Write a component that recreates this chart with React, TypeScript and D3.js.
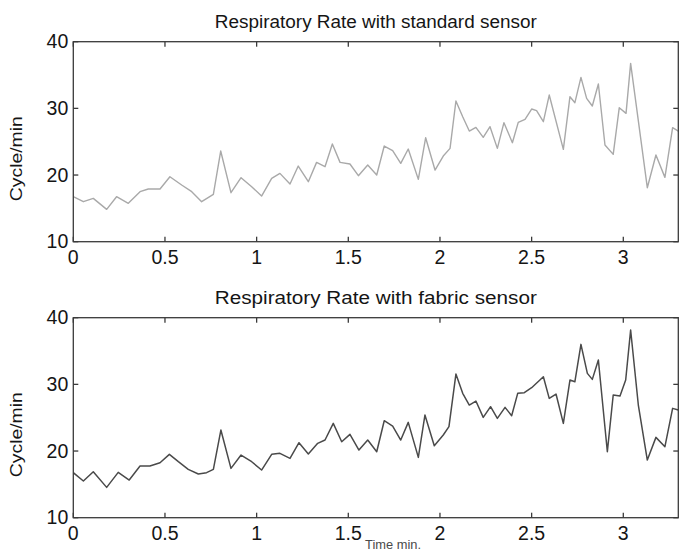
import React from "react";
import * as d3 from "d3";

// ---- data (time in minutes, respiratory rate in cycles/min) ----
const STD_TIME = [
  0, 0.055, 0.109, 0.182, 0.236, 0.3, 0.364, 0.409, 0.473, 0.527, 0.591, 0.646, 0.7, 0.764, 0.804,
  0.86, 0.915, 0.973, 1.027, 1.082, 1.127, 1.182, 1.227, 1.282, 1.327, 1.373, 1.413, 1.455, 1.509,
  1.555, 1.606, 1.655, 1.696, 1.742, 1.786, 1.827, 1.882, 1.922, 1.973, 2.018, 2.055, 2.087, 2.124,
  2.16, 2.196, 2.236, 2.273, 2.313, 2.349, 2.395, 2.427, 2.464, 2.5, 2.527, 2.564, 2.596, 2.673,
  2.709, 2.736, 2.769, 2.8, 2.831, 2.864, 2.9, 2.945, 2.978, 3.015, 3.04, 3.131, 3.178, 3.227,
  3.269, 3.3,
];
const STD_RATE = [
  16.75, 16.0, 16.5, 14.85, 16.75, 15.75, 17.5, 17.9, 17.9, 19.75, 18.5, 17.5, 16.0, 17.1, 23.6,
  17.35, 19.6, 18.25, 16.85, 19.5, 20.25, 18.65, 21.35, 19.0, 21.9, 21.25, 24.65, 21.9, 21.65,
  19.9, 21.5, 20.0, 24.35, 23.65, 21.75, 23.9, 19.35, 25.6, 20.75, 22.85, 24.0, 31.1, 28.75,
  26.6, 27.15, 25.65, 27.25, 24.0, 27.85, 24.85, 27.9, 28.35, 29.9, 29.65, 28.0, 32.0, 23.85,
  31.75, 30.85, 34.65, 31.5, 30.35, 33.65, 24.5, 23.1, 30.1, 29.25, 36.75, 18.1, 23.0, 19.65,
  27.1, 26.6,
];

const FAB_TIME = [
  0, 0.055, 0.109, 0.182, 0.245, 0.305, 0.364, 0.418, 0.473, 0.524, 0.573, 0.627, 0.682, 0.727,
  0.764, 0.805, 0.86, 0.915, 0.973, 1.027, 1.082, 1.127, 1.182, 1.231, 1.282, 1.333, 1.373, 1.418,
  1.464, 1.509, 1.558, 1.606, 1.655, 1.696, 1.742, 1.786, 1.827, 1.882, 1.918, 1.969, 2.018,
  2.049, 2.087, 2.124, 2.16, 2.196, 2.236, 2.276, 2.313, 2.355, 2.391, 2.424, 2.46, 2.5, 2.564,
  2.596, 2.633, 2.673, 2.709, 2.736, 2.769, 2.804, 2.831, 2.864, 2.913, 2.945, 2.982, 3.013,
  3.04, 3.082, 3.131, 3.178, 3.227, 3.269, 3.3,
];
const FAB_RATE = [
  16.75, 15.5, 16.9, 14.55, 16.8, 15.65, 17.75, 17.75, 18.25, 19.5, 18.4, 17.25, 16.55, 16.75,
  17.25, 23.15, 17.4, 19.4, 18.4, 17.15, 19.5, 19.65, 18.9, 21.25, 19.55, 21.15, 21.65, 24.15,
  21.4, 22.5, 20.15, 21.65, 19.9, 24.55, 23.75, 21.65, 24.3, 19.05, 25.4, 20.8, 22.4, 23.65,
  31.55, 28.65, 26.9, 27.5, 25.05, 26.65, 24.9, 26.55, 25.3, 28.65, 28.75, 29.5, 31.15, 27.9,
  28.55, 24.15, 30.65, 30.4, 36.0, 31.65, 30.75, 33.65, 19.9, 28.4, 28.25, 30.65, 38.15, 26.9,
  18.65, 22.05, 20.65, 26.4, 26.15,
];

const X_TICKS = [0, 0.5, 1, 1.5, 2, 2.5, 3];
const X_TICK_LABELS = ["0", "0.5", "1", "1.5", "2", "2.5", "3"];
const Y_TICKS = [10, 20, 30, 40];
const Y_TICK_LABELS = ["10", "20", "30", "40"];

const TITLES = ["Respiratory Rate with standard sensor", "Respiratory Rate with fabric sensor"];
const Y_LABEL = "Cycle/min";
const X_LABEL = "Time min.";

// ---- layout ----
const W = 679;
const H = 552;
const LEFT = 73.3;
const RIGHT = 678.3;
const PANEL_H = 200;
const FONT = "Arial, 'Liberation Sans', Helvetica, sans-serif";
const TEXT = "#151515";
const AXIS = "#3a3a3a";

type PanelProps = {
  top: number;
  title: string;
  times: number[];
  rates: number[];
  color: string;
  width: number;
};

function Panel({ top, title, times, rates, color, width }: PanelProps) {
  const x = d3.scaleLinear().domain([0, 3.3]).range([LEFT, RIGHT]);
  const y = d3.scaleLinear().domain([10, 40]).range([top + PANEL_H, top]);
  const pts: [number, number][] = times.map((t, i) => [t, rates[i]]);
  const line = d3
    .line<[number, number]>()
    .x((d) => x(d[0]))
    .y((d) => y(d[1]));
  const bottom = top + PANEL_H;
  const tick = 5;
  const cx = (LEFT + RIGHT) / 2;
  return (
    <g>
      <text
        x={cx}
        y={top - 14}
        textAnchor="middle"
        fontFamily={FONT}
        fontSize={17.5}
        fill={TEXT}
        textLength={322}
        lengthAdjust="spacingAndGlyphs"
      >
        {title}
      </text>
      <clipPath id={`clip-${top}`}>
        <rect x={LEFT} y={top} width={RIGHT - LEFT} height={PANEL_H} />
      </clipPath>
      <path
        d={line(pts) || ""}
        fill="none"
        stroke={color}
        strokeWidth={width}
        strokeLinejoin="round"
        clipPath={`url(#clip-${top})`}
      />
      <rect
        x={LEFT}
        y={top}
        width={RIGHT - LEFT}
        height={PANEL_H}
        fill="none"
        stroke={AXIS}
        strokeWidth={1.3}
      />
      {X_TICKS.map((t, i) => (
        <g key={"x" + i}>
          <line x1={x(t)} x2={x(t)} y1={bottom} y2={bottom - tick} stroke={AXIS} strokeWidth={1.3} />
          <line x1={x(t)} x2={x(t)} y1={top} y2={top + tick} stroke={AXIS} strokeWidth={1.3} />
          <text
            x={x(t)}
            y={bottom + 22}
            textAnchor="middle"
            fontFamily={FONT}
            fontSize={19.5}
            fill={TEXT}
          >
            {X_TICK_LABELS[i]}
          </text>
        </g>
      ))}
      {Y_TICKS.map((v, i) => (
        <g key={"y" + i}>
          <line x1={LEFT} x2={LEFT + tick} y1={y(v)} y2={y(v)} stroke={AXIS} strokeWidth={1.3} />
          <line x1={RIGHT} x2={RIGHT - tick} y1={y(v)} y2={y(v)} stroke={AXIS} strokeWidth={1.3} />
          <text
            x={68.3}
            y={y(v) + 6.7}
            textAnchor="end"
            fontFamily={FONT}
            fontSize={19.5}
            fill={TEXT}
          >
            {Y_TICK_LABELS[i]}
          </text>
        </g>
      ))}
      <text
        transform={`translate(22, ${top + PANEL_H / 2 + 17}) rotate(-90)`}
        textAnchor="middle"
        fontFamily={FONT}
        fontSize={16.5}
        fill={TEXT}
        textLength={85}
        lengthAdjust="spacingAndGlyphs"
      >
        {Y_LABEL}
      </text>
    </g>
  );
}

export default function App() {
  return (
    <svg
      width={W}
      height={H}
      viewBox={`0 0 ${W} ${H}`}
      style={{ position: "absolute", left: 0, top: 0, background: "#fff" }}
    >
      <rect x={0} y={0} width={W} height={H} fill="#fff" />
      <Panel top={41.7} title={TITLES[0]} times={STD_TIME} rates={STD_RATE} color="#a9a9a9" width={1.4} />
      <Panel top={317.7} title={TITLES[1]} times={FAB_TIME} rates={FAB_RATE} color="#4a4a4a" width={1.5} />
      <text
        x={393}
        y={549}
        textAnchor="middle"
        fontFamily={FONT}
        fontSize={12}
        fill="#4a4a4a"
        textLength={56}
        lengthAdjust="spacingAndGlyphs"
      >
        {X_LABEL}
      </text>
    </svg>
  );
}
